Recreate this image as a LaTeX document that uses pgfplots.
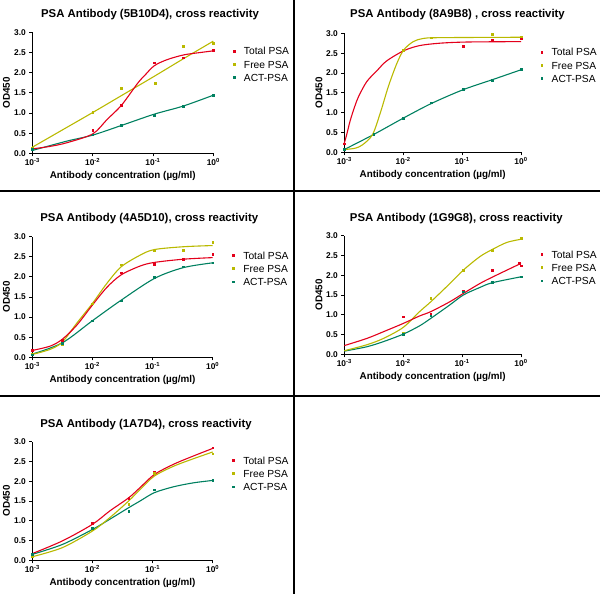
\documentclass[border=0pt]{standalone}
\usepackage{fontspec}
\setmainfont{Liberation Sans}
\usepackage{pgfplots}
\pgfplotsset{compat=1.18}
\definecolor{cR}{RGB}{227,0,27}
\definecolor{cY}{RGB}{185,185,0}
\definecolor{cG}{RGB}{0,128,96}
\pgfplotsset{
 mypanel/.style={
  scale only axis,
  xmin=0.001, xmax=1, ymin=0, ymax=3,
  axis x line*=bottom, axis y line*=left,
  axis line style={line width=1bp,-},
  every tick/.style={black, line width=0.9bp},
  tick align=outside, major tick length=3bp,
  xminorticks=false,
  xtick={0.001,0.01,0.1,1},
  xticklabels={10\textsuperscript{-3},10\textsuperscript{-2},10\textsuperscript{-1},10\textsuperscript{0}},
  ytick={0,0.5,1,1.5,2,2.5,3},
  yticklabel style={/pgf/number format/.cd, fixed, fixed zerofill, precision=1, assume math mode=true},
  tick label style={font=\bfseries\fontsize{8.4}{9}\selectfont},
  xticklabel style={yshift=1bp},
  xlabel={Antibody concentration (µg/ml)},
  ylabel={OD450},
  label style={font=\bfseries\fontsize{9.9}{11}\selectfont},
  xlabel style={at={(axis description cs:0.5,-0.19)}, anchor=center},
  ylabel style={at={(axis description cs:-0.143,0.5)}, anchor=center},
  legend style={at={(axis description cs:1,1)}, anchor=north west, xshift=19bp, yshift=-15bp, draw=none, fill=none, font=\fontsize{10.3}{12}\selectfont, row sep=5.7bp, inner sep=0pt,
    nodes={inner sep=0pt, text height=7.5bp, text depth=0bp}},
  legend cell align=left,
  legend image code/.code={\fill (0bp,-0.6bp) rectangle (1.8bp,1.2bp); \path[draw=none,fill=none] (-0.5bp,0bp) -- (11bp,0bp);},
  clip=false,
 },
 mypts/.style={only marks, mark=square*, mark size=0.8bp},
 mycrv/.style={smooth, no marks, line width=1.1bp, forget plot},
}
\begin{document}
\begin{tikzpicture}
\useasboundingbox (0,0) rectangle (600bp,594bp);
% separators
\draw[line width=1.5bp] (294bp,0bp) -- (294bp,594bp);
\draw[line width=1.5bp] (0bp,403bp) -- (600bp,403bp);
\draw[line width=1.5bp] (0bp,198bp) -- (600bp,198bp);
% titles
\begin{scope}[every node/.style={font=\bfseries\fontsize{11.4}{13}\selectfont}]
\node at (150bp,579.7bp) {PSA Antibody (5B10D4), cross reactivity};
\node at (457.5bp,579bp) {PSA Antibody (8A9B8) , cross reactivity};
\node at (149.3bp,375bp) {PSA Antibody (4A5D10), cross reactivity};
\node at (456.3bp,375bp) {PSA Antibody (1G9G8), cross reactivity};
\node at (146bp,169.7bp) {PSA Antibody (1A7D4), cross reactivity};
\end{scope}
% Panel 1
\begin{axis}[xmode=log, mypanel, at={(32.3bp,440.7bp)}, anchor=south west, width=181bp, height=121bp]
\addplot[mypts, cR] coordinates {(0.001,0.12) (0.01,0.58) (0.03,1.19) (0.105,2.25) (0.316,2.37) (1,2.55)};
\addplot[mypts, cY] coordinates {(0.001,0.14) (0.01,1.02) (0.03,1.62) (0.11,1.74) (0.316,2.66) (1,2.73)};
\addplot[mypts, cG] coordinates {(0.001,0.10) (0.01,0.46) (0.03,0.70) (0.105,0.95) (0.316,1.17) (1,1.44)};
\legend{Total PSA, Free PSA, ACT-PSA}
\addplot[mycrv, cY] coordinates {(0.001,0.15) (0.00316,0.58) (0.01,1.01) (0.0316,1.45) (0.1,1.89) (0.316,2.34) (1,2.78)};
\addplot[mycrv, cG] coordinates {(0.001,0.07) (0.0037,0.30) (0.01,0.45) (0.03,0.69) (0.105,0.97) (0.316,1.17) (1,1.44)};
\addplot[mycrv, cR] coordinates {(0.001,0.11) (0.00195,0.17) (0.0037,0.26) (0.01,0.48) (0.0174,0.84) (0.03,1.19) (0.056,1.74) (0.075,1.95) (0.105,2.17) (0.17,2.32) (0.324,2.44) (0.62,2.5) (1,2.54)};
\end{axis}
% Panel 2
\begin{axis}[xmode=log, mypanel, at={(344.3bp,441.7bp)}, anchor=south west, width=176.7bp, height=119bp]
\addplot[mypts, cR] coordinates {(0.001,0.22) (0.01,2.58) (0.105,2.68) (0.326,2.83) (1,2.87)};
\addplot[mypts, cY] coordinates {(0.001,0.08) (0.00316,0.45) (0.01,2.58) (0.03,2.89) (0.326,2.97) (1,2.91)};
\addplot[mypts, cG] coordinates {(0.001,0.08) (0.00316,0.45) (0.01,0.86) (0.03,1.25) (0.105,1.59) (0.326,1.82) (1,2.09)};
\legend{Total PSA, Free PSA, ACT-PSA}
\addplot[mycrv, cG] coordinates {(0.001,0.07) (0.00316,0.45) (0.01,0.86) (0.03,1.23) (0.105,1.58) (0.326,1.83) (1,2.08)};
\addplot[mycrv, cY] coordinates {(0.001,0.07) (0.0015,0.1) (0.002,0.18) (0.003,0.44) (0.0041,1.0) (0.0056,1.66) (0.0078,2.24) (0.0102,2.58) (0.0148,2.79) (0.0219,2.87) (0.0417,2.89) (1,2.90)};
\addplot[mycrv, cR] coordinates {(0.001,0.23) (0.0011,0.45) (0.00126,0.80) (0.0015,1.15) (0.00174,1.40) (0.0024,1.78) (0.00355,2.05) (0.0052,2.30) (0.0102,2.56) (0.019,2.69) (0.0417,2.75) (0.12,2.78) (1,2.79)};
\end{axis}
% Panel 3
\begin{axis}[xmode=log, mypanel, at={(32.3bp,236.7bp)}, anchor=south west, width=180.4bp, height=120.6bp]
\addplot[mypts, cR] coordinates {(0.001,0.17) (0.00316,0.43) (0.01,1.33) (0.03,2.10) (0.107,2.32) (0.324,2.44) (1,2.56)};
\addplot[mypts, cY] coordinates {(0.001,0.08) (0.00316,0.33) (0.01,1.33) (0.03,2.30) (0.107,2.65) (0.324,2.67) (1,2.87)};
\addplot[mypts, cG] coordinates {(0.001,0.06) (0.00316,0.35) (0.01,0.91) (0.03,1.41) (0.107,1.99) (0.324,2.25) (1,2.35)};
\legend{Total PSA, Free PSA, ACT-PSA}
\addplot[mycrv, cG] coordinates {(0.001,0.08) (0.00316,0.36) (0.01,0.91) (0.03,1.42) (0.107,1.96) (0.324,2.23) (1,2.35)};
\addplot[mycrv, cY] coordinates {(0.001,0.07) (0.002,0.2) (0.00316,0.38) (0.0055,0.85) (0.01,1.34) (0.0174,1.84) (0.03,2.25) (0.062,2.54) (0.107,2.68) (0.324,2.75) (1,2.78)};
\addplot[mycrv, cR] coordinates {(0.001,0.17) (0.002,0.28) (0.00316,0.45) (0.0055,0.80) (0.01,1.30) (0.0174,1.74) (0.03,2.05) (0.062,2.27) (0.107,2.36) (0.324,2.44) (1,2.48)};
\end{axis}
% Panel 4
\begin{axis}[xmode=log, mypanel, at={(344.3bp,239.7bp)}, anchor=south west, width=176.7bp, height=118.6bp]
\addplot[mypts, cR] coordinates {(0.01,0.95) (0.0295,1.02) (0.105,1.61) (0.324,2.13) (0.93,2.30) (1,2.24)};
\addplot[mypts, cY] coordinates {(0.01,0.53) (0.0295,1.42) (0.105,2.13) (0.324,2.64) (1,2.93)};
\addplot[mypts, cG] coordinates {(0.01,0.51) (0.0295,0.98) (0.105,1.58) (0.324,1.82) (1,1.96)};
\legend{Total PSA, Free PSA, ACT-PSA}
\addplot[mycrv, cG] coordinates {(0.001,0.08) (0.0024,0.19) (0.0046,0.32) (0.01,0.51) (0.019,0.72) (0.0295,0.91) (0.062,1.25) (0.105,1.50) (0.2,1.69) (0.324,1.81) (1,1.96)};
\addplot[mycrv, cY] coordinates {(0.001,0.09) (0.0024,0.24) (0.0046,0.40) (0.01,0.68) (0.019,1.08) (0.0295,1.33) (0.062,1.79) (0.105,2.13) (0.2,2.47) (0.324,2.65) (0.575,2.83) (1,2.91)};
\addplot[mycrv, cR] coordinates {(0.001,0.22) (0.0024,0.40) (0.0046,0.57) (0.01,0.78) (0.019,0.97) (0.0295,1.08) (0.062,1.33) (0.105,1.54) (0.2,1.79) (0.324,1.95) (1,2.30)};
\end{axis}
% Panel 5
\begin{axis}[xmode=log, mypanel, at={(32.3bp,33.7bp)}, anchor=south west, width=180.4bp, height=118.6bp]
\addplot[mypts, cR] coordinates {(0.001,0.17) (0.01,0.94) (0.04,1.57) (0.107,2.23) (1,2.85)};
\addplot[mypts, cY] coordinates {(0.001,0.10) (0.01,0.78) (0.04,1.42) (0.107,2.20) (1,2.70)};
\addplot[mypts, cG] coordinates {(0.001,0.15) (0.01,0.81) (0.04,1.24) (0.107,1.79) (1,2.03)};
\legend{Total PSA, Free PSA, ACT-PSA}
\addplot[mycrv, cG] coordinates {(0.001,0.15) (0.00316,0.40) (0.01,0.78) (0.0195,1.04) (0.04,1.33) (0.062,1.50) (0.107,1.71) (0.224,1.86) (0.48,1.96) (1,2.02)};
\addplot[mycrv, cY] coordinates {(0.001,0.09) (0.00316,0.32) (0.01,0.74) (0.0195,1.08) (0.04,1.50) (0.062,1.79) (0.107,2.13) (0.224,2.38) (0.48,2.57) (1,2.74)};
\addplot[mycrv, cR] coordinates {(0.001,0.17) (0.00316,0.49) (0.01,0.91) (0.0195,1.25) (0.04,1.58) (0.062,1.84) (0.107,2.17) (0.224,2.43) (0.48,2.64) (1,2.83)};
\end{axis}
\end{tikzpicture}
\end{document}
